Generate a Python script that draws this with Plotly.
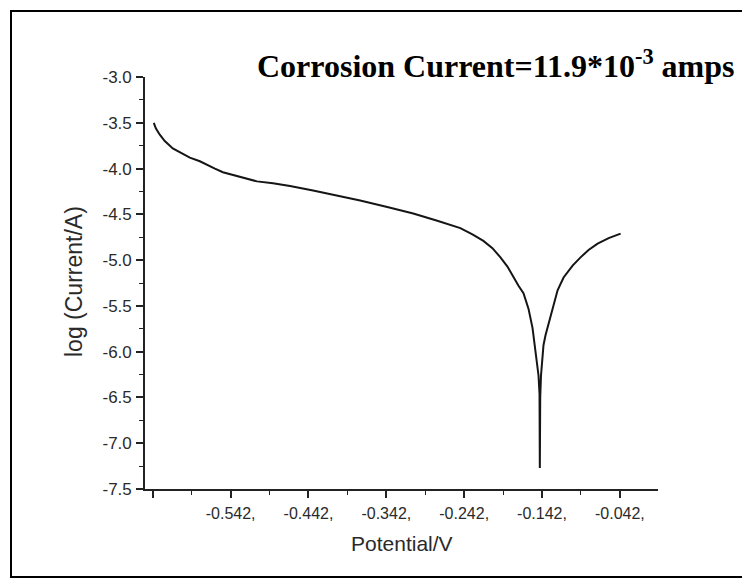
import plotly.graph_objects as go

# Potentiodynamic polarization curve
potential_v = [
    -0.6407, -0.6381, -0.6330, -0.6266, -0.6163, -0.6073, -0.5944, -0.5815,
    -0.5725, -0.5622, -0.5519, -0.5300, -0.5081, -0.4876, -0.4657, -0.4361,
    -0.4065, -0.3756, -0.3408, -0.3074, -0.2765, -0.2469, -0.2314, -0.2173,
    -0.2057, -0.1954, -0.1864, -0.1787, -0.1722, -0.1658, -0.1594, -0.1542,
    -0.1517, -0.1491, -0.1465, -0.1452, -0.1448, -0.1446, -0.1443, -0.1433,
    -0.1418, -0.1401, -0.1375, -0.1349, -0.1323, -0.1285, -0.1220, -0.1143,
    -0.1027, -0.0925, -0.0822, -0.0706, -0.0564, -0.0410,
]
log_current = [
    -3.50, -3.56, -3.63, -3.70, -3.78, -3.82, -3.88, -3.92,
    -3.96, -4.00, -4.04, -4.09, -4.14, -4.16, -4.19, -4.24,
    -4.29, -4.35, -4.42, -4.49, -4.57, -4.65, -4.72, -4.79,
    -4.87, -4.97, -5.07, -5.19, -5.28, -5.36, -5.53, -5.74,
    -5.89, -6.06, -6.26, -6.46, -7.27, -6.62, -6.50, -6.26,
    -6.06, -5.93, -5.82, -5.74, -5.64, -5.52, -5.33, -5.19,
    -5.06, -4.97, -4.89, -4.82, -4.76, -4.71,
]

x_tickvals = [-0.642, -0.542, -0.442, -0.342, -0.242, -0.142, -0.042]
x_ticktext = ["", "-0.542,", "-0.442,", "-0.342,", "-0.242,", "-0.142,", "-0.042,"]
y_tickvals = [-3.0, -3.5, -4.0, -4.5, -5.0, -5.5, -6.0, -6.5, -7.0, -7.5]
y_ticktext = ["-3.0", "-3.5", "-4.0", "-4.5", "-5.0", "-5.5", "-6.0", "-6.5", "-7.0", "-7.5"]

OFF = 8  # page body margin
W, H = 750 - OFF, 580 - OFF
L, R, T, B = 137, 92, 69, 91
pw, ph = W - L - R, H - T - B

def px(xs):  # screen pixel -> paper x
    return (xs - OFF - L) / pw

def py(ys):  # screen pixel -> paper y
    return (H - B - (ys - OFF)) / ph

fig = go.Figure()
fig.add_trace(go.Scatter(
    x=potential_v, y=log_current, mode="lines",
    line=dict(color="#151515", width=2), showlegend=False, hoverinfo="skip",
))

fig.update_layout(
    width=W, height=H,
    margin=dict(l=L, r=R, t=T, b=B),
    paper_bgcolor="white", plot_bgcolor="white",
    xaxis=dict(
        range=[-0.652, 0.007], showgrid=False, zeroline=False,
        showline=True, linecolor="#222", linewidth=1.6,
        tickmode="array", tickvals=x_tickvals, ticktext=x_ticktext,
        ticks="outside", ticklen=7, tickwidth=1.6, tickcolor="#222",
        tickfont=dict(family="Liberation Sans, Arial", size=16, color="#2a2a2a"),
        ticklabelstandoff=2,
        minor=dict(tickmode="array",
                   tickvals=[v + 0.05 for v in x_tickvals[:-1]],
                   ticks="outside", ticklen=4, tickwidth=1.3, tickcolor="#222"),
    ),
    yaxis=dict(
        range=[-7.5, -3.0], showgrid=False, zeroline=False,
        showline=True, linecolor="#222", linewidth=1.6,
        tickmode="array", tickvals=y_tickvals, ticktext=y_ticktext,
        ticks="outside", ticklen=7, tickwidth=1.6, tickcolor="#222",
        tickfont=dict(family="Liberation Sans, Arial", size=17, color="#2a2a2a"),
        ticklabelstandoff=1,
        minor=dict(tickmode="array",
                   tickvals=[v - 0.25 for v in y_tickvals[:-1]],
                   ticks="outside", ticklen=4, tickwidth=1.3, tickcolor="#222"),
    ),
    annotations=[
        dict(text="<b>Corrosion Current=11.9*10<sup>-3</sup> amps</b>",
             xref="paper", yref="paper", x=px(496), y=py(64),
             xanchor="center", yanchor="middle", showarrow=False,
             font=dict(family="Liberation Serif, Times New Roman", size=32, color="black")),
        dict(text="Potential/V", xref="paper", yref="paper",
             x=px(402), y=py(543), xanchor="center", yanchor="middle",
             showarrow=False,
             font=dict(family="Liberation Sans, Arial", size=21, color="#2a2a2a")),
        dict(text="log (Current/A)", xref="paper", yref="paper",
             x=px(74), y=py(282), xanchor="center", yanchor="middle",
             textangle=-90, showarrow=False,
             font=dict(family="Liberation Sans, Arial", size=23, color="#2a2a2a")),
    ],
    shapes=[
        dict(type="rect", xref="paper", yref="paper",
             x0=px(11), x1=px(747), y0=py(577), y1=py(11),
             line=dict(color="black", width=2), fillcolor="rgba(0,0,0,0)"),
    ],
)

fig.write_html("out.html")
